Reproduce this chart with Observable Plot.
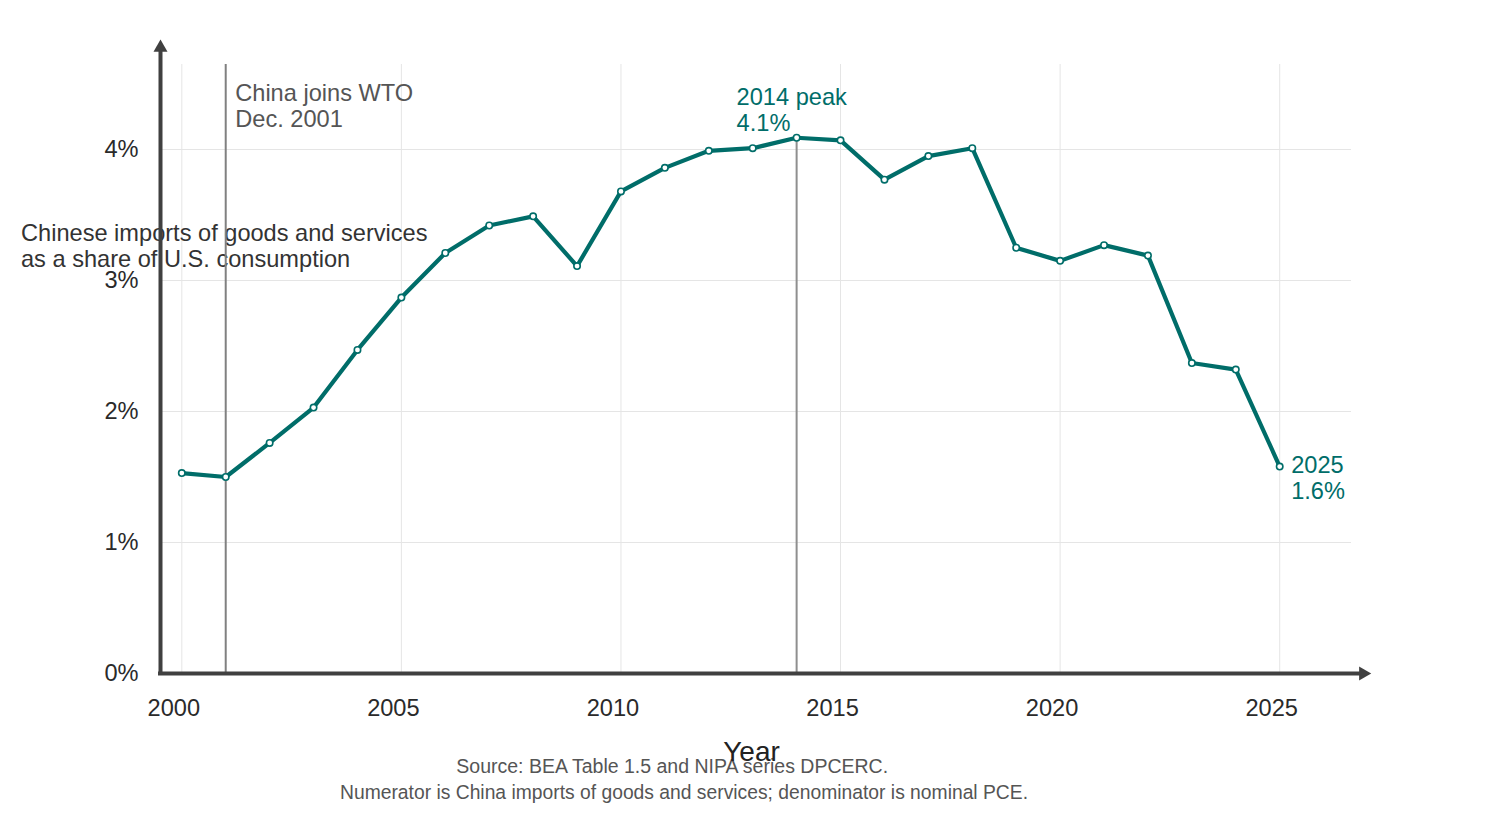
<!DOCTYPE html>
<html>
<head>
<meta charset="utf-8">
<script src="https://cdn.jsdelivr.net/npm/d3@7"></script>
<script src="https://cdn.jsdelivr.net/npm/@observablehq/plot@0.6"></script>
<style>
  body { margin: 0; background: #fff; }
</style>
</head>
<body>
<div id="chart"></div>
<script>
// ---- data ----
const years = [2000, 2001, 2002, 2003, 2004, 2005, 2006, 2007, 2008, 2009, 2010, 2011, 2012,
               2013, 2014, 2015, 2016, 2017, 2018, 2019, 2020, 2021, 2022, 2023, 2024, 2025];
const shares = [1.53, 1.50, 1.76, 2.03, 2.47, 2.87, 3.21, 3.42, 3.49, 3.11, 3.68, 3.86, 3.99,
                4.01, 4.09, 4.07, 3.77, 3.95, 4.01, 3.25, 3.15, 3.27, 3.19, 2.37, 2.32, 1.58];
const xTicks = [2000, 2005, 2010, 2015, 2020, 2025];
const yTicks = [0, 1, 2, 3, 4];
const wtoYear = 2001;
const wtoLabel = "China joins WTO\nDec. 2001";
const peakYear = 2014;
const lastYear = 2025;
const yTitle = "Chinese imports of goods and services\nas a share of U.S. consumption";
const xTitle = "Year";
const sourceLine = "Source: BEA Table 1.5 and NIPA series DPCERC.";
const noteLine = "Numerator is China imports of goods and services; denominator is nominal PCE.";

// ---- styling ----
const teal = "#006d69";
const axisColor = "#404040";
const gridColor = "#e5e5e5";
const fs = 23.6;
const xDomain = [1999.515, 2026.635];
const yDomain = [0, 4.649];
const xAxisEnd = 2026.9;
const yAxisEnd = 4.778;

const data = years.map((year, i) => ({year, share: shares[i]}));
const peak = data.filter(d => d.year === peakYear);
const last = data.filter(d => d.year === lastYear);

const plot = Plot.plot({
  width: 1500,
  height: 823,
  marginLeft: 160,
  marginRight: 149,
  marginTop: 64,
  marginBottom: 150,
  style: {fontFamily: "'Liberation Sans', Arial, sans-serif", fontSize: fs + "px", background: "#fff", color: "#333"},
  x: {domain: xDomain},
  y: {domain: yDomain},
  marks: [
    Plot.gridX(xTicks, {stroke: gridColor, strokeOpacity: 1}),
    Plot.gridY(yTicks, {stroke: gridColor, strokeOpacity: 1}),
    Plot.axisX(xTicks, {tickSize: 0, tickPadding: 26, tickFormat: d => String(d), fontSize: fs, dx: -8, label: null, color: "#2a2a2a"}),
    Plot.axisY(yTicks, {tickSize: 0, tickPadding: 22, tickFormat: d => d + "%", fontSize: fs, label: null, color: "#2a2a2a"}),
    // y-axis title
    Plot.text([yTitle], {frameAnchor: "top-left", textAnchor: "start", lineAnchor: "bottom",
      dx: -139.5, dy: 202.7, fontSize: fs, lineHeight: 1.1, fill: "#333"}),
    // WTO event
    Plot.ruleX([wtoYear], {stroke: "#808080", strokeWidth: 2}),
    Plot.text([wtoYear], {x: d => d, text: () => wtoLabel, frameAnchor: "top", textAnchor: "start",
      lineAnchor: "bottom", dx: 9.5, dy: 62.7, fontSize: fs, lineHeight: 1.1, fill: "#555"}),
    // peak rule
    Plot.ruleX(peak, {x: "year", y1: 0, y2: "share", stroke: "#8f8f8f", strokeWidth: 2}),
    // axis lines and arrows
    Plot.ruleY([0], {x1: 1999.47, x2: xAxisEnd - 0.05, stroke: axisColor, strokeWidth: 4}),
    Plot.ruleX([xDomain[0]], {y1: -0.015, y2: yAxisEnd - 0.03, stroke: axisColor, strokeWidth: 4}),
    Plot.dot([0], {x: xDomain[0], y: yAxisEnd, symbol: "triangle", r: 5.2, fill: axisColor, stroke: "none"}),
    Plot.dot([0], {x: xAxisEnd, y: 0, symbol: "triangle", r: 5.2, rotate: 90, fill: axisColor, stroke: "none"}),
    // series
    Plot.line(data, {x: "year", y: "share", stroke: teal, strokeWidth: 4.2, strokeLinejoin: "round"}),
    Plot.dot(data, {x: "year", y: "share", r: 3.2, fill: "#fff", stroke: teal, strokeWidth: 1.6}),
    // annotations
    Plot.text(peak, {x: "year", y: "share", text: d => `${d.year} peak\n${d.share.toFixed(1)}%`,
      textAnchor: "start", lineAnchor: "bottom", dx: -60, dy: -6.3, fontSize: fs, lineHeight: 1.1, fill: teal}),
    Plot.text(last, {x: "year", y: "share", text: d => `${d.year}\n${d.share.toFixed(1)}%`,
      textAnchor: "start", lineAnchor: "top", dx: 11.5, dy: -12, fontSize: fs, lineHeight: 1.1, fill: teal}),
    // caption
    Plot.text([sourceLine], {frameAnchor: "bottom", lineAnchor: "bottom", dx: -83.8, dy: 99.3, fontSize: 19.5, fill: "#555"}),
    Plot.text([noteLine], {frameAnchor: "bottom", lineAnchor: "bottom", dx: -72, dy: 125.3, fontSize: 19.3, fill: "#555"}),
    // x title
    Plot.text([xTitle], {frameAnchor: "bottom", lineAnchor: "bottom", dx: -4.5, dy: 87, fontSize: 28, fill: "#222"})
  ]
});
document.getElementById("chart").appendChild(plot);
</script>
</body>
</html>
